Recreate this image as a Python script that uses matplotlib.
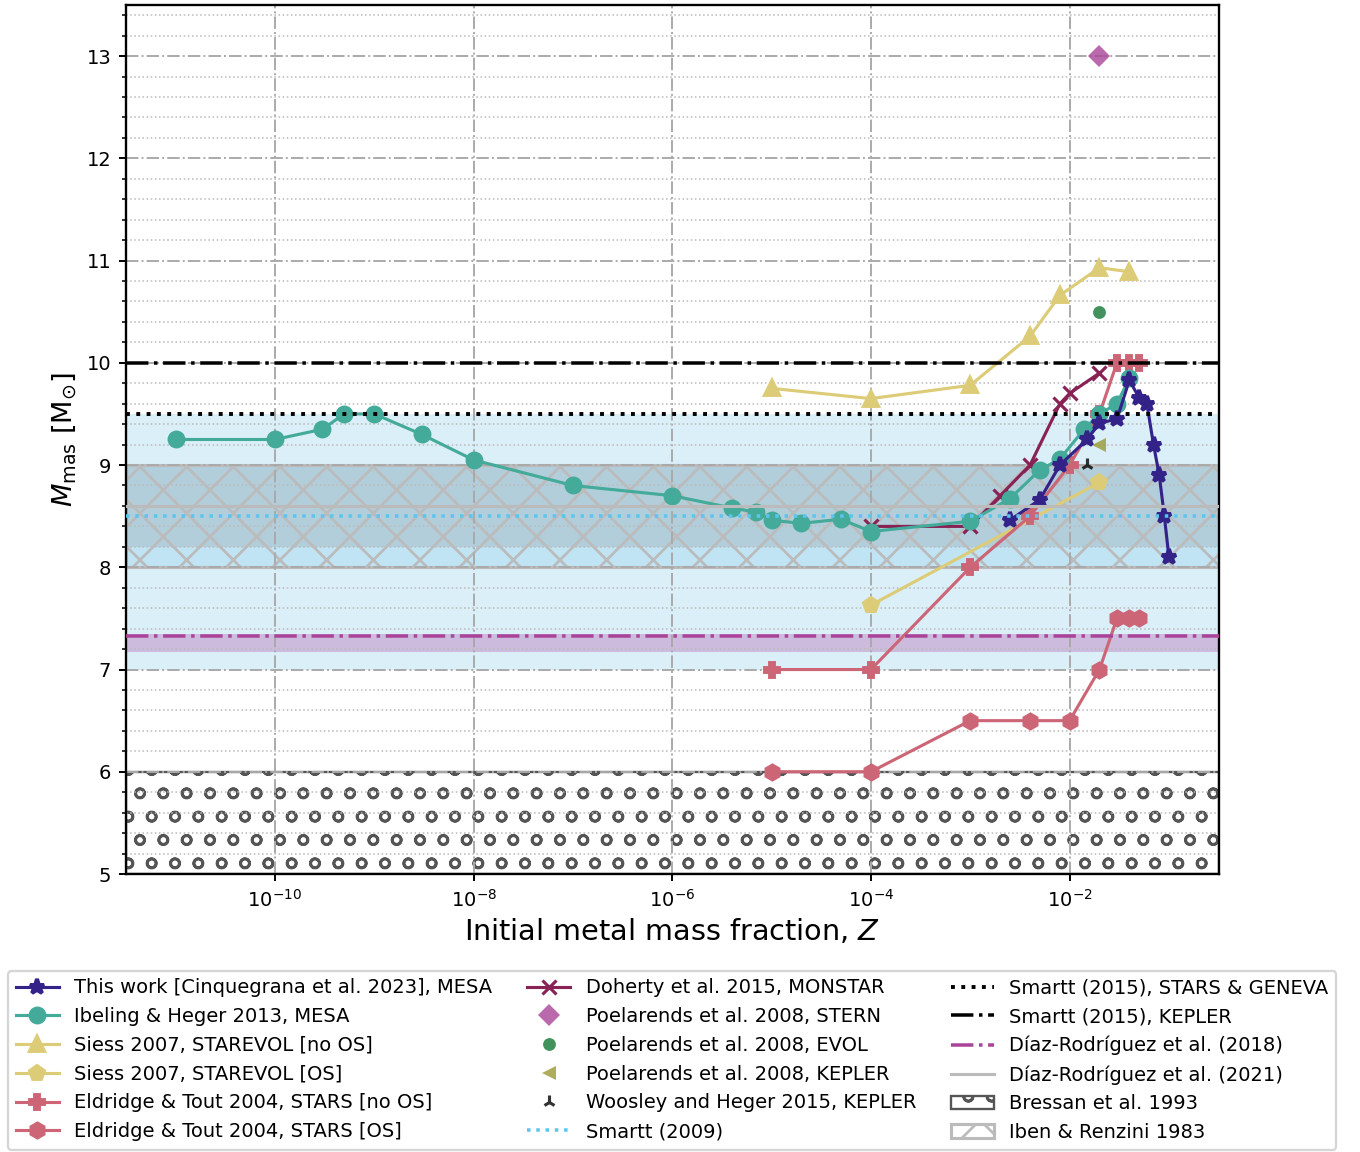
import matplotlib
matplotlib.use("Agg")
import matplotlib.pyplot as plt
from matplotlib.ticker import AutoMinorLocator, NullLocator

# --- DATA ---
z_this = [0.0025, 0.005, 0.008, 0.015, 0.02, 0.03, 0.04, 0.05, 0.06, 0.07, 0.08, 0.09, 0.1]
m_this = [8.46, 8.66, 9.0, 9.25, 9.41, 9.45, 9.83, 9.66, 9.6, 9.2, 8.9, 8.5, 8.1]

z_ibeling = [1e-11, 1e-10, 3e-10, 5e-10, 1e-9, 3e-9, 1e-8, 1e-7, 1e-6, 4e-6, 7e-6,
             1e-5, 2e-5, 5e-5, 1e-4, 1e-3, 0.0025, 0.005, 0.008, 0.014, 0.02, 0.03, 0.04]
m_ibeling = [9.25, 9.25, 9.35, 9.5, 9.5, 9.3, 9.05, 8.8, 8.7, 8.58, 8.54,
             8.46, 8.43, 8.47, 8.35, 8.45, 8.67, 8.95, 9.06, 9.35, 9.5, 9.6, 9.85]

z_siess_noos = [1e-5, 1e-4, 1e-3, 0.004, 0.008, 0.02, 0.04]
m_siess_noos = [9.75, 9.65, 9.78, 10.26, 10.66, 10.93, 10.89]

z_siess_os = [1e-4, 0.02]
m_siess_os = [7.63, 8.83]

z_eldridge = [1e-5, 1e-4, 1e-3, 0.004, 0.01, 0.02, 0.03, 0.04, 0.05]
m_eldridge_noos = [7.0, 7.0, 8.0, 8.5, 9.0, 9.5, 10.0, 10.0, 10.0]
m_eldridge_os = [6.0, 6.0, 6.5, 6.5, 6.5, 7.0, 7.5, 7.5, 7.5]

z_doherty = [1e-4, 1e-3, 0.002, 0.004, 0.008, 0.01, 0.02]
m_doherty = [8.4, 8.4, 8.7, 9.0, 9.6, 9.7, 9.9]

z_poel = 0.02
m_poel_stern = 13.0
m_poel_evol = 10.5
m_poel_kepler = 9.2

z_woosley = 0.015
m_woosley = 9.0

# reference limits
smartt09 = 8.5
smartt09_range = (7.0, 9.5)
smartt15_sg = 9.5
smartt15_kepler = 10.0
diaz18 = 7.33
diaz18_range = (7.17, 7.35)
diaz21 = 8.6
diaz21_range = (8.2, 9.0)
bressan_range = (5.0, 6.0)
iben_range = (8.0, 9.0)

# colours
c_this = "#332288"
c_ibeling = "#44AA99"
c_siess = "#DDCC77"
c_eldridge = "#CC6677"
c_doherty = "#882255"
c_purple = "#AA4499"

plt.rcParams["hatch.linewidth"] = 0.7

DPI = 280
fig = plt.figure(figsize=(1360 / DPI, 1152 / DPI), dpi=DPI)
ax = fig.add_axes([0.0926, 0.2413, 0.8034, 0.7544])

lw = 0.8
ms = 3.6

# --- shaded bands (behind data) ---
ax.axhspan(*smartt09_range, color="#88CCEE", alpha=0.3, lw=0, zorder=0.5)
ax.axhspan(*iben_range, color="#88CCEE", alpha=0.3, lw=0, zorder=0.5)
ax.axhspan(*diaz21_range, color="grey", alpha=0.22, lw=0, zorder=0.6)
ax.axhspan(*diaz18_range, color=c_purple, alpha=0.3, lw=0, zorder=0.6)
bressan = ax.axhspan(*bressan_range, facecolor="none", edgecolor="#555555",
                     hatch="oo", lw=0.6, zorder=0.7, label="Bressan et al. 1993")
iben = ax.axhspan(*iben_range, facecolor="none", edgecolor="#BBBBBB",
                  hatch="xx", lw=0.8, zorder=0.7, label="Iben & Renzini 1983")

# --- model series ---
h_this, = ax.plot(z_this, m_this, "-*", color=c_this, lw=lw, ms=ms + 0.4,
                  label="This work [Cinquegrana et al. 2023], MESA", zorder=3)
h_ibel, = ax.plot(z_ibeling, m_ibeling, "-o", color=c_ibeling, lw=lw, ms=ms,
                  label="Ibeling & Heger 2013, MESA", zorder=2.5)
h_s1, = ax.plot(z_siess_noos, m_siess_noos, "-^", color=c_siess, lw=lw, ms=ms,
                label="Siess 2007, STAREVOL [no OS]")
h_s2, = ax.plot(z_siess_os, m_siess_os, "-p", color=c_siess, lw=lw, ms=ms,
                label="Siess 2007, STAREVOL [OS]")
h_e1, = ax.plot(z_eldridge, m_eldridge_noos, "-P", color=c_eldridge, lw=lw, ms=ms,
                label="Eldridge & Tout 2004, STARS [no OS]")
h_e2, = ax.plot(z_eldridge, m_eldridge_os, "-h", color=c_eldridge, lw=lw, ms=ms,
                label="Eldridge & Tout 2004, STARS [OS]")
h_doh, = ax.plot(z_doherty, m_doherty, "-x", color=c_doherty, lw=lw, ms=ms,
                 mew=0.8, label="Doherty et al. 2015, MONSTAR")
h_p1, = ax.plot([z_poel], [m_poel_stern], "D", color=c_purple, alpha=0.8, ms=3.9,
                mew=0, ls="none", label="Poelarends et al. 2008, STERN")
h_p2, = ax.plot([z_poel], [m_poel_evol], "o", color="#117733", alpha=0.8, ms=3.3,
                mew=0, ls="none", label="Poelarends et al. 2008, EVOL")
h_p3, = ax.plot([z_poel], [m_poel_kepler], "<", color="#999933", alpha=0.8, ms=3.8,
                mew=0, ls="none", label="Poelarends et al. 2008, KEPLER")
h_w, = ax.plot([z_woosley], [m_woosley], "2", color="k", alpha=0.8, ms=3.4, mew=0.8,
               ls="none", label="Woosley and Heger 2015, KEPLER")

# --- reference lines (on top) ---
h_sm09 = ax.axhline(smartt09, color="#5BC5F0", ls=":", lw=0.9, zorder=4,
                    label="Smartt (2009)")
h_sm15a = ax.axhline(smartt15_sg, color="k", ls=":", lw=1.0, zorder=4,
                     label="Smartt (2015), STARS & GENEVA")
h_sm15b = ax.axhline(smartt15_kepler, color="k", ls="-.", lw=0.9, zorder=4,
                     label="Smartt (2015), KEPLER")
h_d18 = ax.axhline(diaz18, color=c_purple, ls="-.", lw=0.9, zorder=4,
                   label="Díaz-Rodríguez et al. (2018)")
h_d21 = ax.axhline(diaz21, color="#BBBBBB", ls="-", lw=0.8, zorder=4,
                   label="Díaz-Rodríguez et al. (2021)")

# --- axes ---
ax.set_xscale("log")
ax.set_xlim(10 ** -11.5, 10 ** -0.5)
ax.set_ylim(5, 13.5)
ax.set_xticks([1e-10, 1e-8, 1e-6, 1e-4, 1e-2])
ax.xaxis.set_minor_locator(NullLocator())
ax.set_yticks(range(5, 14))
ax.yaxis.set_minor_locator(AutoMinorLocator(5))

ax.grid(which="major", color="#AAAAAA", ls="-.", lw=0.5)
ax.grid(which="minor", axis="y", color="#BBBBBB", ls=":", lw=0.4)

ax.tick_params(which="major", length=1.8, width=0.5, labelsize=5.0, pad=2.0)
ax.tick_params(which="minor", length=1.0, width=0.4)
for sp in ax.spines.values():
    sp.set_linewidth(0.6)

ax.set_xlabel("Initial metal mass fraction, $Z$", fontsize=7.4, labelpad=1.5)
ax.set_ylabel(r"$M_{\rm mas}$ [M$_{\odot}$]", fontsize=7.0, labelpad=2)

handles = [h_this, h_ibel, h_s1, h_s2, h_e1, h_e2,
           h_doh, h_p1, h_p2, h_p3, h_w, h_sm09,
           h_sm15a, h_sm15b, h_d18, h_d21, bressan, iben]
leg = ax.legend(handles=handles, loc="upper center", bbox_to_anchor=(0.5, -0.1),
                ncol=3, fontsize=5.0, handlelength=2.2, columnspacing=1.8)
leg.get_frame().set_linewidth(0.6)

fig.savefig("out.png", dpi=DPI)
